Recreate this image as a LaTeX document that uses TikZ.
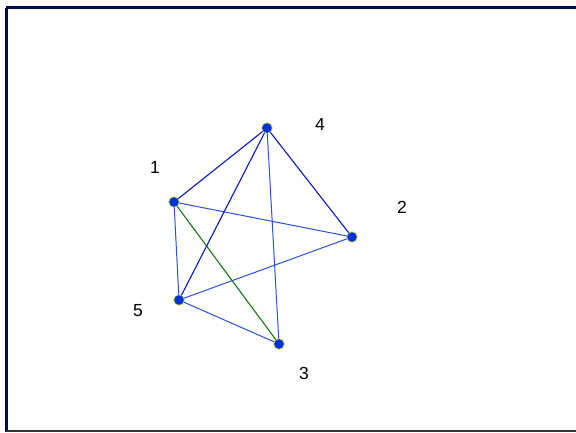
\documentclass[tikz,border=0pt]{standalone}
\usepackage{fontspec}
\setmainfont{Liberation Sans}
\definecolor{navy}{RGB}{0,10,90}
\definecolor{darkedge}{RGB}{10,20,200}
\definecolor{lightedge}{RGB}{40,80,225}
\definecolor{greenedge}{RGB}{20,120,20}
\definecolor{dotblue}{RGB}{0,50,220}
\definecolor{ring}{RGB}{200,220,40}
\begin{document}
\begin{tikzpicture}[x=1bp,y=-1bp,
  vert/.style={circle,fill=dotblue,draw=ring,line width=0.6bp,inner sep=0pt,minimum size=10.5bp},
  lbl/.style={font=\fontsize{17.5bp}{20bp}\selectfont,text=black,inner sep=0pt},
  dk/.style={draw=darkedge,line width=1.1bp},
  lt/.style={draw=lightedge,line width=1bp},
  gr/.style={draw=greenedge,line width=1.1bp}]
\fill[white] (0,0) rectangle (576,432);
\useasboundingbox (0,0) rectangle (576,432);
% frame
\draw[navy,line width=3bp] (6,7.5) -- (576,7.5);
\draw[navy,line width=3bp] (6.5,7.5) -- (6.5,432);
\draw[black!80,line width=2bp] (6,431) -- (576,431);
% vertices
\coordinate (p1) at (174,202);
\coordinate (p4) at (267,128);
\coordinate (p2) at (352,237);
\coordinate (p5) at (179,300);
\coordinate (p3) at (279,344);
% edges
\draw[lt] (p1) -- (p2);
\draw[lt] (p5) -- (p2);
\draw[lt] (p1) -- (p5);
\draw[lt] (p5) -- (p3);
\draw[lt] (p4) -- (p3);
\draw[gr] (p1) -- (p3);
\draw[dk] (p1) -- (p4);
\draw[dk] (p4) -- (p2);
\draw[dk] (p4) -- (p5);
% dots
\node[vert] (n1) at (p1) {};
\node[vert] (n4) at (p4) {};
\node[vert] (n2) at (p2) {};
\node[vert] (n5) at (p5) {};
\node[vert] (n3) at (p3) {};
% labels
\node[lbl] (l1) at (155,167) {1};
\node[lbl] (l4) at (320,124) {4};
\node[lbl] (l2) at (402,207) {2};
\node[lbl] (l5) at (138,311) {5};
\node[lbl] (l3) at (304,373) {3};
\end{tikzpicture}
\end{document}
